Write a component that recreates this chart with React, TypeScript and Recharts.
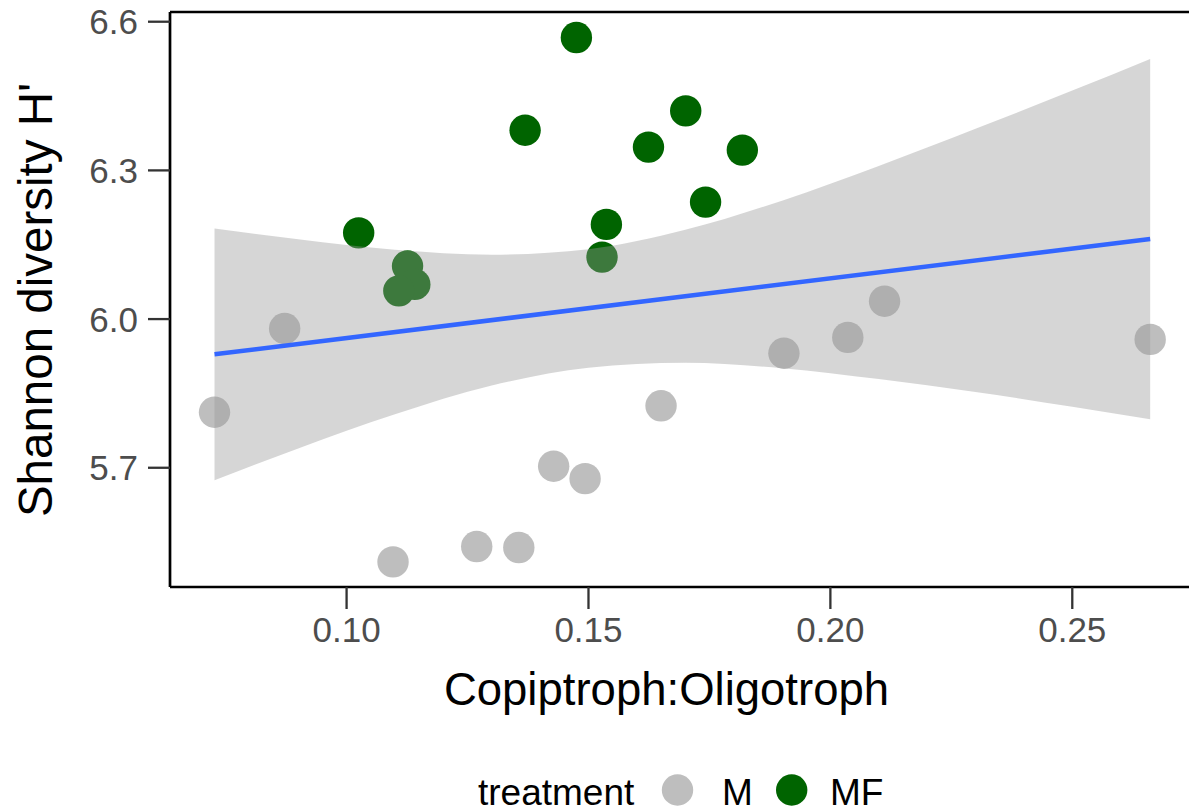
import React from 'react'
import {
  ComposedChart,
  Scatter,
  Area,
  Line,
  XAxis,
  YAxis,
  ReferenceLine,
  Customized,
} from 'recharts'

// treatment M (grey points)
const mRatio = [0.0727, 0.0872, 0.1096, 0.1269, 0.1356, 0.1428, 0.1493, 0.165, 0.1904, 0.2036, 0.2112, 0.2661]
const mShannon = [5.812, 5.981, 5.51, 5.541, 5.539, 5.703, 5.678, 5.825, 5.931, 5.963, 6.036, 5.959]

// treatment MF (green points)
const mfRatio = [0.1025, 0.1126, 0.1141, 0.1108, 0.1369, 0.1475, 0.1537, 0.1528, 0.1624, 0.1701, 0.1818, 0.1742]
const mfShannon = [6.174, 6.107, 6.07, 6.057, 6.381, 6.568, 6.191, 6.125, 6.347, 6.42, 6.341, 6.236]

// linear fit and its confidence band
const fitRatio = [0.0727, 0.2661]
const fitShannon = [5.929, 6.1615]
const bandRatio = [0.0727, 0.09, 0.11, 0.13, 0.15, 0.17, 0.19, 0.21, 0.23, 0.25, 0.2661]
const bandLow = [5.675, 5.739, 5.808, 5.866, 5.902, 5.912, 5.901, 5.879, 5.853, 5.823, 5.798]
const bandHigh = [6.183, 6.161, 6.14, 6.13, 6.141, 6.18, 6.239, 6.309, 6.384, 6.461, 6.525]

const xTicks = [0.1, 0.15, 0.2, 0.25]
const yTicks = [5.7, 6.0, 6.3, 6.6]

const FONT = '"Liberation Sans", Arial, Helvetica, sans-serif'
const GREY = '#bebebe'
const GREEN = '#006400'
const R = 15.7
const Y_MAX = 6.6196

const mData = mRatio.map((x, i) => ({ x, y: mShannon[i] }))
const mfData = mfRatio.map((x, i) => ({ x, y: mfShannon[i] }))
const fitData = fitRatio.map((x, i) => ({ x, fit: fitShannon[i] }))
const bandData = bandRatio.map((x, i) => ({ x, band: [bandLow[i], bandHigh[i]] }))

const dot = (color: string) => (props: any) =>
  <circle cx={props.cx} cy={props.cy} r={R} fill={color} />

const Titles = () => (
  <g fontFamily={FONT}>
    <text x={666.5} y={705} fontSize={45.5} textAnchor="middle" fill="#000">
      Copiptroph:Oligotroph
    </text>
    <text
      x={52}
      y={300}
      fontSize={47.5}
      textAnchor="middle"
      fill="#000"
      transform="rotate(-90 52 300)"
    >
      Shannon diversity H'
    </text>
    {/* legend */}
    <text x={478} y={805} fontSize={37} fill="#000">treatment</text>
    <circle cx={677.5} cy={790} r={R} fill={GREY} />
    <text x={722} y={805} fontSize={37} fill="#000">M</text>
    <circle cx={791.7} cy={790} r={R} fill={GREEN} />
    <text x={830} y={805} fontSize={37} fill="#000">MF</text>
  </g>
)

export default function App() {
  return (
    <div
      style={{
        position: 'absolute',
        left: 0,
        top: 0,
        width: 1189,
        height: 812,
        overflow: 'hidden',
        background: '#fff',
      }}
    >
      <ComposedChart
        width={1250}
        height={812}
        margin={{ top: 12, right: 50, bottom: 0, left: 0 }}
      >
        <XAxis
          dataKey="x"
          type="number"
          domain={[0.0635, 0.2764]}
          allowDataOverflow
          ticks={xTicks}
          tickFormatter={v => v.toFixed(2)}
          height={225}
          tickSize={22}
          tickMargin={8}
          axisLine={{ stroke: '#000', strokeWidth: 2.7 }}
          tickLine={{ stroke: '#333', strokeWidth: 2.3 }}
          tick={{ fill: '#4d4d4d', fontSize: 35, fontFamily: FONT }}
        />
        <YAxis
          type="number"
          domain={[5.4594, Y_MAX]}
          allowDataOverflow
          ticks={yTicks}
          tickFormatter={v => v.toFixed(1)}
          width={170}
          tickSize={22}
          tickMargin={10}
          axisLine={{ stroke: '#000', strokeWidth: 2.7 }}
          tickLine={{ stroke: '#333', strokeWidth: 2.3 }}
          tick={{ fill: '#4d4d4d', fontSize: 35, fontFamily: FONT }}
        />
        <Scatter
          data={mData}
          dataKey="y"
          shape={dot(GREY)}
          isAnimationActive={false}
          zIndex={100}
        />
        <Scatter
          data={mfData}
          dataKey="y"
          shape={dot(GREEN)}
          isAnimationActive={false}
          zIndex={100}
        />
        <Area
          data={bandData}
          dataKey="band"
          type="monotone"
          stroke="none"
          fill="#999999"
          fillOpacity={0.4}
          isAnimationActive={false}
          zIndex={200}
        />
        <Line
          data={fitData}
          dataKey="fit"
          type="linear"
          stroke="#3366ff"
          strokeWidth={4.5}
          dot={false}
          activeDot={false}
          isAnimationActive={false}
          zIndex={300}
        />
        {/* panel border, top edge */}
        <ReferenceLine y={Y_MAX} stroke="#000" strokeWidth={2.7} />
        <Customized component={Titles} />
      </ComposedChart>
    </div>
  )
}
